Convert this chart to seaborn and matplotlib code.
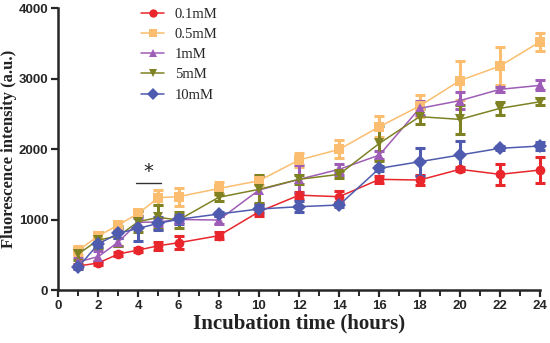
import numpy as np
import pandas as pd
import matplotlib
matplotlib.use("Agg")
import matplotlib.pyplot as plt
import seaborn as sns

# --- Data ---
hours = [1, 2, 3, 4, 5, 6, 8, 10, 12, 14, 16, 18, 20, 22, 24]
labels = ["0.1mM", "0.5mM", "1mM", "5mM", "10mM"]

mean_01 = [340, 383, 510, 567, 628, 671, 770, 1110, 1345, 1324, 1570, 1560, 1712, 1641, 1702]
err_01 = [30, 30, 30, 30, 60, 90, 50, 60, 50, 80, 50, 70, 30, 150, 180]

mean_05 = [560, 766, 922, 1088, 1310, 1324, 1440, 1550, 1844, 1996, 2317, 2610, 2970, 3177, 3522]
err_05 = [70, 40, 60, 30, 110, 130, 90, 60, 100, 130, 150, 150, 280, 270, 130]

mean_1 = [400, 473, 680, 960, 965, 1000, 993, 1418, 1570, 1712, 1915, 2577, 2686, 2847, 2903]
err_1 = [60, 80, 60, 60, 60, 40, 60, 200, 200, 80, 60, 100, 120, 40, 70]

mean_5 = [510, 709, 766, 969, 1031, 993, 1315, 1428, 1570, 1641, 2081, 2459, 2421, 2577, 2671]
err_5 = [80, 110, 140, 150, 170, 120, 50, 200, 60, 50, 250, 110, 210, 90, 50]

mean_10 = [322, 652, 804, 875, 946, 1003, 1078, 1149, 1182, 1206, 1726, 1820, 1915, 2010, 2043]
err_10 = [30, 40, 60, 180, 90, 60, 30, 50, 80, 30, 40, 200, 200, 30, 60]

means = [mean_01, mean_05, mean_1, mean_5, mean_10]
errs = [err_01, err_05, err_1, err_5, err_10]
colors = ["#E8262C", "#FBBD6F", "#9E5DB6", "#7E8223", "#4E5BAE"]
markers = ["o", "s", "^", "v", "D"]

rows = []
for lab, m, e in zip(labels, means, errs):
    for h, v, s in zip(hours, m, e):
        rows.append({"hours": h, "intensity": v, "err": s, "conc": lab})
df = pd.DataFrame(rows)

# --- Plot ---
sns.set_style("ticks")
fig = plt.figure(figsize=(5.5, 3.43), dpi=100)
ax = fig.add_axes([0.1055, 0.1545, 0.8765, 0.822])

palette = dict(zip(labels, colors))
marker_map = dict(zip(labels, markers))

for lab in labels:
    sub = df[df["conc"] == lab]
    ax.errorbar(sub["hours"], sub["intensity"], yerr=sub["err"], fmt="none",
                ecolor=palette[lab], elinewidth=2.2, capsize=3.5, capthick=2.2,
                clip_on=False, zorder=2)

sns.lineplot(data=df, x="hours", y="intensity", hue="conc", style="conc",
             palette=palette, markers=marker_map, dashes=False,
             hue_order=labels, style_order=labels,
             markersize=7, markeredgewidth=0, linewidth=1.1,
             ax=ax, zorder=3, clip_on=False)

# significance mark
ax.plot([3.9, 5.15], [1520, 1520], color="#333333", lw=1)
ax.text(4.5, 1540, "*", ha="center", va="bottom", fontsize=14, color="#222222")

ax.set_xlim(0, 24)
ax.set_ylim(0, 4000)
ax.set_xticks(range(0, 25, 2))
ax.set_xticks(range(1, 25, 2), minor=True)
ax.set_yticks(range(0, 4001, 1000))

for s in ["left", "bottom"]:
    ax.spines[s].set_linewidth(1.8)
sns.despine(ax=ax)
ax.tick_params(axis="both", which="major", length=5, width=1.6, labelsize=9.5, pad=2)
ax.tick_params(axis="x", which="minor", length=4, width=1.4)
for t in ax.get_xticklabels() + ax.get_yticklabels():
    t.set_fontweight("bold")
    t.set_family("Liberation Sans")

ax.set_xlabel("Incubation time (hours)", fontsize=15, fontweight="bold",
              family="Liberation Serif", labelpad=1, color="#222222")
ax.set_ylabel("Fluorescence intensity (a.u.)", fontsize=12, fontweight="bold",
              family="Liberation Serif", labelpad=1.5, color="#222222")

leg = ax.legend(loc="upper left", bbox_to_anchor=(0.145, 1.048), frameon=False,
                prop={"family": "Liberation Serif", "size": 10.5},
                handlelength=1.6, labelspacing=0.48, handletextpad=0.7)
for h in leg.legend_handles:
    h.set_markersize(6)

fig.savefig("out.png", dpi=100)
